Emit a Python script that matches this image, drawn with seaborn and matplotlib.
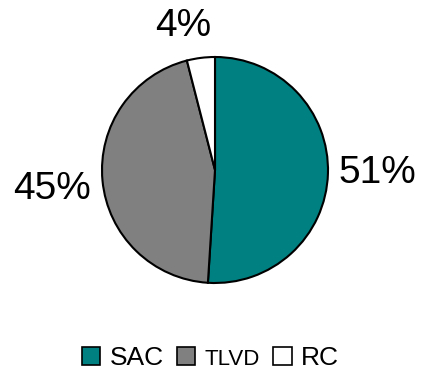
import matplotlib
matplotlib.use("Agg")
import matplotlib.pyplot as plt
import seaborn as sns
from matplotlib.patches import Patch

categories = ["SAC", "TLVD", "RC"]
values = [51, 45, 4]
labels = ["51%", "45%", "4%"]
colors = ["#008080", "#808080", "#FFFFFF"]

sns.set_theme(style="white")
plt.rcParams['font.family'] = ['Liberation Sans', 'DejaVu Sans']

W, H = 421, 372
fig = plt.figure(figsize=(W / 100, H / 100), dpi=100)
cx, cy, r = 215, 170, 113
ax = fig.add_axes([(cx - r) / W, (H - cy - r) / H, 2 * r / W, 2 * r / H])
ax.pie(values, colors=colors, startangle=90, counterclock=False,
       wedgeprops=dict(edgecolor="black", linewidth=1.5), radius=1)
ax.set_xlim(-1, 1)
ax.set_ylim(-1, 1)
ax.set_aspect("equal")
ax.axis("off")

label_pos = [(1.44, -0.03), (-1.44, -0.17), (-0.28, 1.27)]
for (x, y), t in zip(label_pos, labels):
    ax.text(x, y, t, ha="center", va="center", fontsize=28, color="black", clip_on=False)

handles = [Patch(facecolor=c, edgecolor="black", linewidth=1.2) for c in colors]
leg = fig.legend(handles, categories, loc="center", bbox_to_anchor=(0.5, 1 - 358 / H),
                 ncol=3, frameon=False, fontsize=19, handlelength=0.7, handleheight=0.7,
                 handletextpad=0.35, columnspacing=0.5, borderpad=0)
leg.get_texts()[1].set_fontsize(16)
for t in leg.get_texts():
    t.set_color("black")

fig.savefig("out.png", dpi=100)
